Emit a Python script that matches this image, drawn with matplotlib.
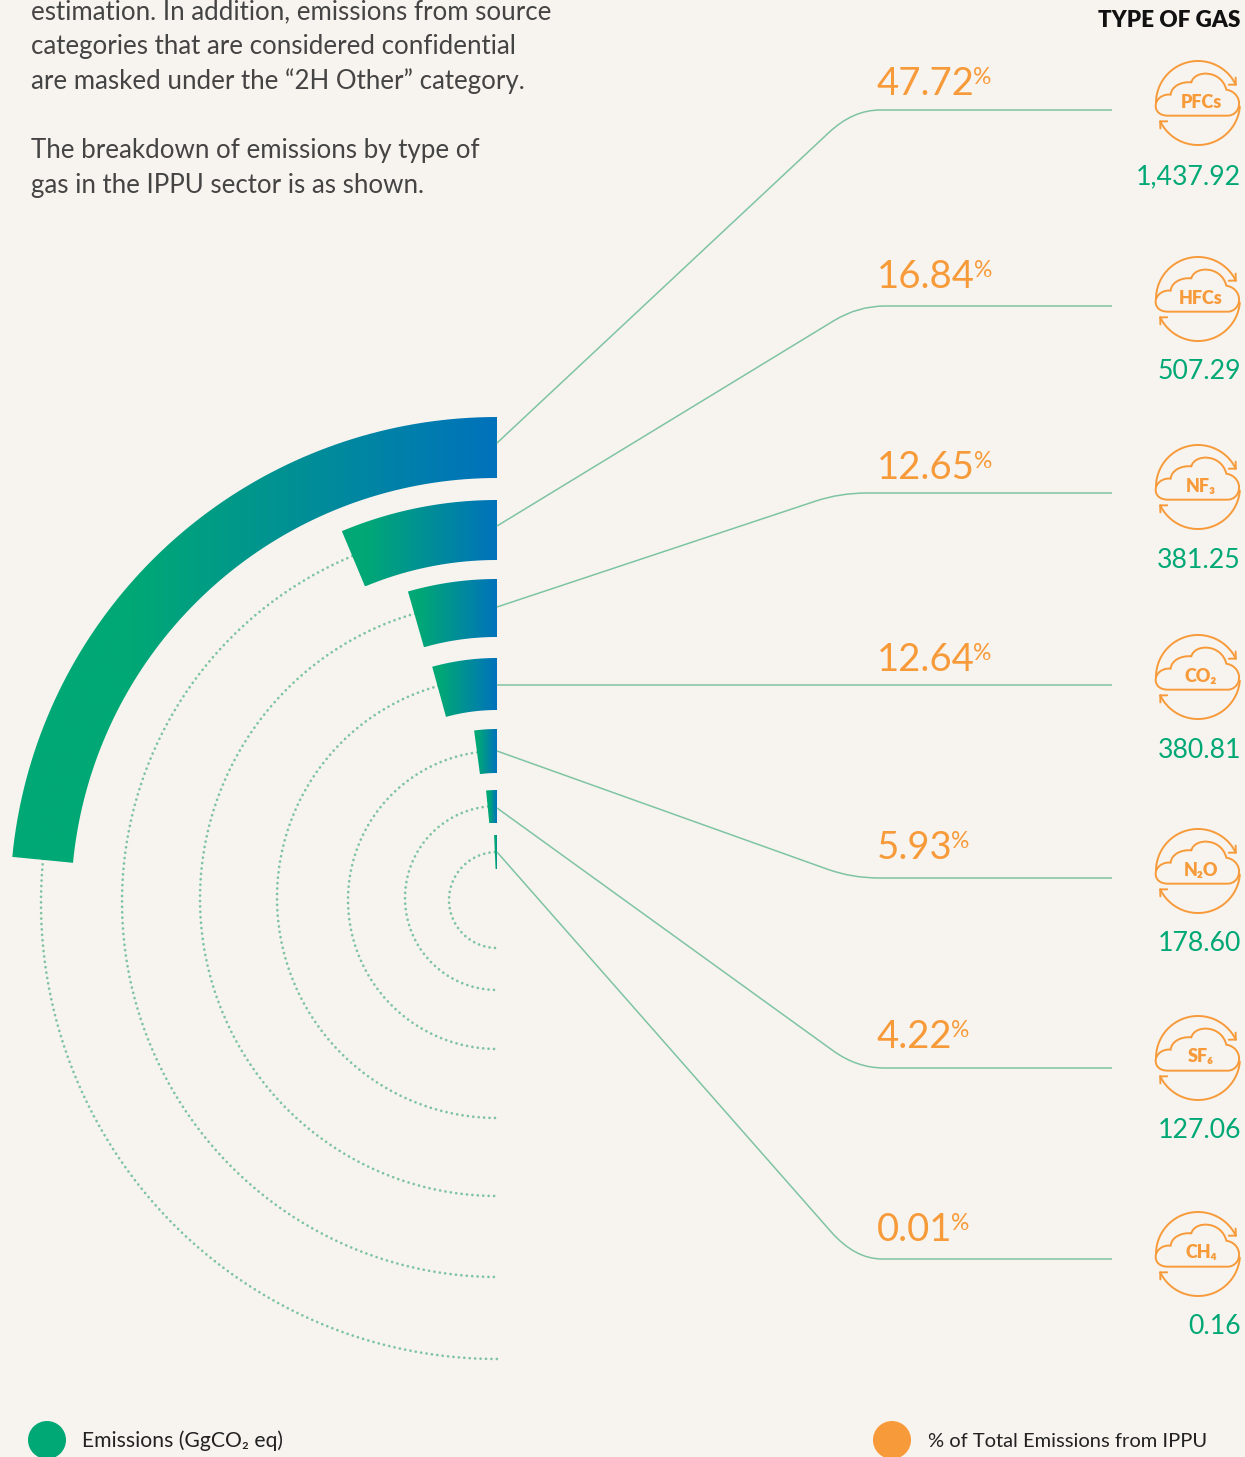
import numpy as np
import matplotlib
matplotlib.use('Agg')
import matplotlib.pyplot as plt
from matplotlib.colors import LinearSegmentedColormap
from matplotlib.patches import Circle, PathPatch
from matplotlib.path import Path

# data
gases = ['PFCs', 'HFCs', 'NF₃', 'CO₂', 'N₂O', 'SF₆', 'CH₄']
emissions = ['1,437.92', '507.29', '381.25', '380.81', '178.60', '127.06', '0.16']
percents = ['47.72', '16.84', '12.65', '12.64', '5.93', '4.22', '0.01']
sweep_deg = [84.45, 22.7, 16.0, 15.4, 7.6, 5.6, 2.5]

intro_lines = ['estimation. In addition, emissions from source',
               'categories that are considered confidential',
               'are masked under the “2H Other” category.',
               '',
               'The breakdown of emissions by type of',
               'gas in the IPPU sector is as shown.']

# layout, in pixels of the 1245x1457 picture
cx = 497
bar_cy = [904, 902, 902, 902, 902, 902, 902]
bar_outer = [487, 402, 323, 244, 173, 112, 67]
bar_inner = [426, 342, 265, 192, 129, 79, 33]
ring_r = [456, 375, 297, 220, 149, 92, 48]
ring_cy = [903, 902, 899, 898, 900, 898, 900]
green_until = [0.25, 0.15, 0.12, 0.12, 0.15, 0.3, 0.8]

leader_start = [443, 526, 607, 685, 751, 808, 852]
leader_end = [110, 306, 493, 685, 878, 1068, 1259]
leader_knee = [853, 858, 840, 855, 852, 857, 855]
pct_base = [95, 288, 479, 671, 859, 1048, 1241]
icon_y = [103, 299, 487, 677, 871, 1058, 1254]
value_y = [184, 379, 568, 758, 951, 1138, 1334]

BG = '#F7F4EF'
GREEN = '#00A875'
BLUE = '#0072BC'
ORANGE = '#F79A3A'
LINE = '#7FC4A2'
FONT = ['Lato', 'DejaVu Sans']

plt.rcParams['font.family'] = FONT
plt.rcParams['lines.scale_dashes'] = False

fig = plt.figure(figsize=(12.45, 14.57), dpi=100, facecolor=BG)
ax = fig.add_axes([0, 0, 1, 1])
ax.set_xlim(0, 1245)
ax.set_ylim(1457, 0)
ax.axis('off')


def bar_path(r0, r1, cy, sweep):
    a = np.radians(np.linspace(0, sweep, 80))
    xo, yo = cx - r1 * np.sin(a), cy - r1 * np.cos(a)
    xi, yi = cx - r0 * np.sin(a[::-1]), cy - r0 * np.cos(a[::-1])
    return np.r_[xo, xi], np.r_[yo, yi]


def draw_icon(x0, y0, label):
    # two arrows round the circle, cloud in the middle
    kw = dict(color=ORANGE, lw=1.4, solid_capstyle='round')
    r = 42
    for a0, a1 in [(180, 26), (-5, -154)]:
        a = np.radians(np.linspace(a0, a1, 60))
        px, py = x0 + r * np.cos(a), y0 - r * np.sin(a)
        ax.plot(px, py, **kw)
        ang = np.radians(a1 - 90)
        for d in (-25, 65):
            t = ang + np.radians(d)
            ax.plot([px[-1], px[-1] - 7 * np.cos(t)], [py[-1], py[-1] + 7 * np.sin(t)], **kw)
    verts = [(-90, 38), (-115, 38), (-127, 25), (-127, 8),
             (-127, -12), (-105, -28), (-82, -25),
             (-80, -50), (-50, -65), (-20, -62),
             (-10, -100), (70, -100), (85, -40),
             (115, -35), (125, -10), (123, 5),
             (122, 25), (105, 38), (90, 38),
             (-90, 38)]
    codes = [Path.MOVETO] + [Path.CURVE4] * 18 + [Path.LINETO]
    verts = [(x0 + vx / 3, y0 + vy / 3) for vx, vy in verts]
    ax.add_patch(PathPatch(Path(verts, codes), fc='none', ec=ORANGE, lw=1.4))
    ax.text(x0 + 3, y0 - 1, label, color=ORANGE, fontsize=13, fontweight='heavy',
            ha='center', va='center')


# dotted rings, from the end of each bar round to the bottom
for r, cy, sweep in zip(ring_r, ring_cy, sweep_deg):
    a = np.radians(np.linspace(sweep, 180, 400))
    ax.plot(cx - r * np.sin(a), cy - r * np.cos(a), color=LINE, lw=2.0,
            linestyle=(0, (0.01, 3.9)), dash_capstyle='round', zorder=1)

# bars with the green to blue fade
for r0, r1, cy, sweep, g in zip(bar_inner, bar_outer, bar_cy, sweep_deg, green_until):
    xs, ys = bar_path(r0, r1, cy, sweep)
    cmap = LinearSegmentedColormap.from_list('fade', [(0, GREEN), (g, GREEN), (1, BLUE)])
    im = ax.imshow(np.linspace(0, 1, 256).reshape(1, -1), cmap=cmap, aspect='auto',
                   extent=(xs.min(), xs.max(), ys.max(), ys.min()), zorder=2)
    patch = plt.Polygon(np.c_[xs, ys], closed=True, fc='none', ec='none', zorder=2)
    ax.add_patch(patch)
    im.set_clip_path(patch)
ax.set_xlim(0, 1245)
ax.set_ylim(1457, 0)

# leader lines
for y0, y1, knee in zip(leader_start, leader_end, leader_knee):
    f = (knee - 24 - cx) / (knee - cx)
    bend = (cx + (knee - cx) * f, y0 + (y1 - y0) * f)
    verts = [(cx, y0), bend, (knee, y1), (knee + 27, y1), (1112, y1)]
    codes = [Path.MOVETO, Path.LINETO, Path.CURVE3, Path.CURVE3, Path.LINETO]
    ax.add_patch(PathPatch(Path(verts, codes), fc='none', ec=LINE, lw=1.1, zorder=3))

# right side labels
for pct, base, gas, iy, val, vy in zip(percents, pct_base, gases, icon_y, emissions, value_y):
    t = ax.text(877, base, pct, color=ORANGE, fontsize=27.5, va='baseline', ha='left')
    ax.annotate('%', xy=(1, 1), xycoords=t, xytext=(-1, -1), textcoords='offset points',
                color=ORANGE, fontsize=16.5, va='top', ha='left')
    draw_icon(1198, iy, gas)
    ax.text(1241, vy, val, color=GREEN, fontsize=19.2, ha='right', va='baseline')

ax.text(1240, 27, 'TYPE OF GAS', color='#111111', fontsize=16.2, fontweight='heavy',
        ha='right', va='baseline')

# intro text
for i, line in enumerate(intro_lines):
    ax.text(31, 19 + i * 34.8, line, color='#444444', fontsize=18.6, ha='left', va='baseline')

# legend
for x0, col, label, tx, fs in [(47, GREEN, 'Emissions (GgCO₂ eq)', 82, 15.2),
                               (892, ORANGE, '% of Total Emissions from IPPU', 928, 14.5)]:
    ax.add_patch(Circle((x0, 1440), 19, fc=col, ec='none'))
    ax.text(tx, 1447, label, color='#222222', fontsize=fs, ha='left', va='baseline')

fig.savefig('out.png', dpi=100, facecolor=BG)
